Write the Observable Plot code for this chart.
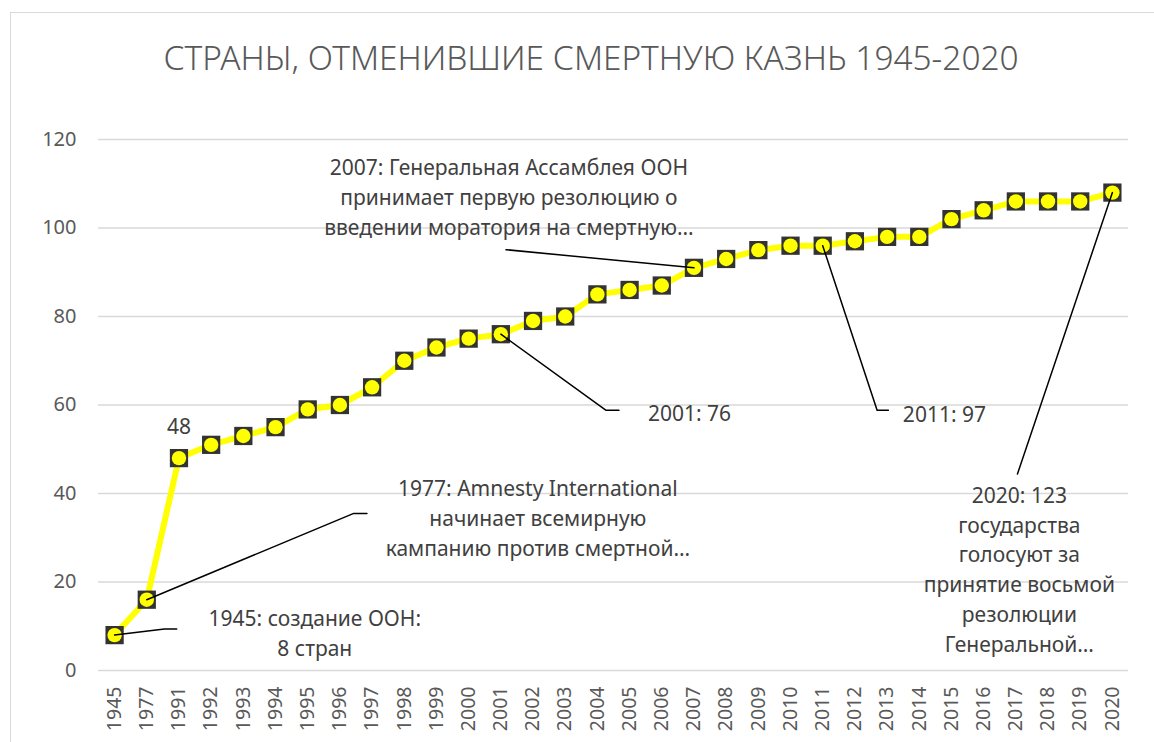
<!DOCTYPE html>
<html><head><meta charset="utf-8">
<script src="https://cdn.jsdelivr.net/npm/d3@7"></script>
<script src="https://cdn.jsdelivr.net/npm/@observablehq/plot@0.6"></script>
<style>
body{margin:0;background:#fff;font-family:"Noto Sans",sans-serif;overflow:hidden;width:1154px;height:742px;position:relative}
#frame{position:absolute;left:10px;top:12px;width:1300px;height:900px;border:1.5px solid #d9d9d9;box-sizing:border-box}
#title{position:absolute;left:0;top:0;width:1182px;height:100px;line-height:114px;text-align:center;font-size:33.4px;color:#595959;font-weight:300;white-space:nowrap}
#chart{position:absolute;left:0;top:100px}
</style></head>
<body>
<div id="frame"></div>
<div id="title">СТРАНЫ, ОТМЕНИВШИЕ СМЕРТНУЮ КАЗНЬ 1945-2020</div>
<div id="chart"></div>
<script>
const years = ["1945","1977","1991","1992","1993","1994","1995","1996","1997","1998","1999","2000","2001","2002","2003","2004","2005","2006","2007","2008","2009","2010","2011","2012","2013","2014","2015","2016","2017","2018","2019","2020"];
const counts = [8,16,48,51,53,55,59,60,64,70,73,75,76,79,80,85,86,87,91,93,95,96,96,97,98,98,102,104,106,106,106,108];
const yTicks = [0,20,40,60,80,100,120];

// Callout texts and their anchor positions (x in year-slot units, y in chart values)
const noteYears = ["1945","1977","2001","2007","2011","2020"];
const noteTexts = [
  "1945: создание ООН:\n8 стран",
  "1977: Amnesty International\nначинает всемирную\nкампанию против смертной…",
  "2001: 76",
  "2007: Генеральная Ассамблея ООН\nпринимает первую резолюцию о\nвведении моратория на смертную…",
  "2011: 97",
  "2020: 123\nгосударства\nголосуют за\nпринятие восьмой\nрезолюции\nГенеральной…"
];
const noteAnchor = ["middle","middle","start","middle","start","middle"];
const noteTextX = [6.22, 13.15, 16.57, 12.25, 24.49, 28.11];
const noteTextY = [8.8, 34.8, 58.5, 107.3, 58.4, 23.2];
// leader line: from the data point, through elbow, to end
const noteElbowX = [1.55, 7.43, 15.27, 12.16, 23.69, 28.05];
const noteElbowY = [9.4, 35.5, 58.8, 95.1, 58.8, 44.4];
const noteEndX = [1.93, 7.84, 15.67, 12.16, 24.04, 28.05];
const noteEndY = [9.4, 35.5, 58.8, 95.1, 58.8, 44.4];

const data = years.map((y, i) => ({i, year: y, value: counts[i]}));
const leaders = [];
noteYears.forEach((yr, k) => {
  const i = years.indexOf(yr);
  leaders.push({id: k, x: i, y: counts[i]});
  leaders.push({id: k, x: noteElbowX[k], y: noteElbowY[k]});
  leaders.push({id: k, x: noteEndX[k], y: noteEndY[k]});
});
const notes = noteTexts.map((t, k) => ({text: t, x: noteTextX[k], y: noteTextY[k], anchor: noteAnchor[k]}));
const i1991 = years.indexOf("1991");
const noteStyle = {x: "x", y: "y", text: "text", lineAnchor: "middle", lineHeight: 1.42, fontSize: 21, fill: "#404040"};

const chart = Plot.plot({
  width: 1154, height: 642,
  marginLeft: 98, marginRight: 26, marginTop: 39, marginBottom: 72,
  x: {type: "linear", domain: [-0.5, years.length - 0.5], axis: null},
  y: {domain: [0, 120], axis: null},
  style: {fontFamily: "'Noto Sans', sans-serif", color: "#595959", background: "transparent", overflow: "visible"},
  marks: [
    Plot.gridY(yTicks, {stroke: "#d9d9d9", strokeOpacity: 1, strokeWidth: 1.5}),
    Plot.axisY({ticks: yTicks, tickSize: 0, tickPadding: 22, fontSize: 20, label: null}),
    Plot.axisX({ticks: years.map((_, i) => i), tickFormat: i => years[i], tickRotate: -90, tickSize: 0, tickPadding: 16, fontSize: 19.5, label: null}),
    Plot.line(data, {x: "i", y: "value", stroke: "#ffff00", strokeWidth: 6}),
    Plot.dot(data, {x: "i", y: "value", symbol: "square", r: 10.3, fill: "#333333"}),
    Plot.dot(data, {x: "i", y: "value", r: 7.2, fill: "#ffff00"}),
    Plot.line(leaders, {x: "x", y: "y", z: "id", stroke: "#000", strokeWidth: 1.5}),
    Plot.text([data[i1991]], {x: "i", y: "value", text: d => String(d.value), dy: -31, fontSize: 21, fill: "#404040"}),
    Plot.text(notes.filter(d => d.anchor === "middle"), {...noteStyle, textAnchor: "middle"}),
    Plot.text(notes.filter(d => d.anchor === "start"), {...noteStyle, textAnchor: "start"})
  ]
});
document.getElementById("chart").append(chart);
</script>
</body></html>
